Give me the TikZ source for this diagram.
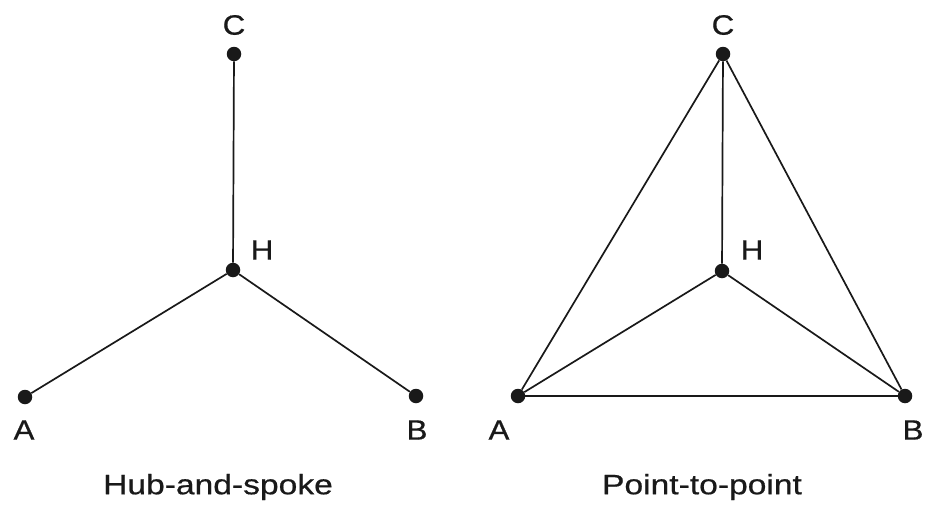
\documentclass[tikz,border=0pt]{standalone}
\usepackage{fontspec}
\setmainfont{Liberation Sans}
\newfontfamily\diagfont[FakeBold=0.6]{Liberation Sans}
\begin{document}
\begin{tikzpicture}[x=1pt,y=-1pt,
  dot/.style={circle,fill=black!90,inner sep=0pt,minimum size=14.5pt},
  lbl/.style={font=\diagfont\fontsize{28}{30}\selectfont,text=black!90,inner sep=0pt,xscale=1.12},
  captext/.style={font=\diagfont\fontsize{28}{30}\selectfont,text=black!90,inner sep=0pt,xscale=1.2},
  link/.style={line width=1.7pt,draw=black!90}]
\useasboundingbox (0,0) rectangle (927,506);
% left: hub-and-spoke
\node[dot] (lC) at (234,54) {};
\node[dot] (lH) at (233,270) {};
\node[dot] (lA) at (25,397) {};
\node[dot] (lB) at (416,396) {};
\node[lbl] (lCt) at (234,25) {C};
\node[lbl] (lHt) at (262,250) {H};
\node[lbl] (lAt) at (24,430) {A};
\node[lbl] (lBt) at (417,430) {B};
\node[captext] (lcap) at (218,487) {Hub-and-spoke};
\draw[link] (lC) -- (lH);
\draw[link] (lH) -- (lA);
\draw[link] (lH) -- (lB);
% right: point-to-point
\node[dot] (rC) at (723,54) {};
\node[dot] (rH) at (722,271) {};
\node[dot] (rA) at (518,396) {};
\node[dot] (rB) at (905,396) {};
\node[lbl] (rCt) at (723,25) {C};
\node[lbl] (rHt) at (752,250) {H};
\node[lbl] (rAt) at (499,430) {A};
\node[lbl] (rBt) at (913,430) {B};
\node[captext] (rcap) at (702,487) {Point-to-point};
\draw[link] (rC) -- (rH);
\draw[link] (rH) -- (rA);
\draw[link] (rH) -- (rB);
\draw[link] (rA) -- (rC);
\draw[link] (rB) -- (rC);
\draw[link] (rA) -- (rB);
\end{tikzpicture}
\end{document}
